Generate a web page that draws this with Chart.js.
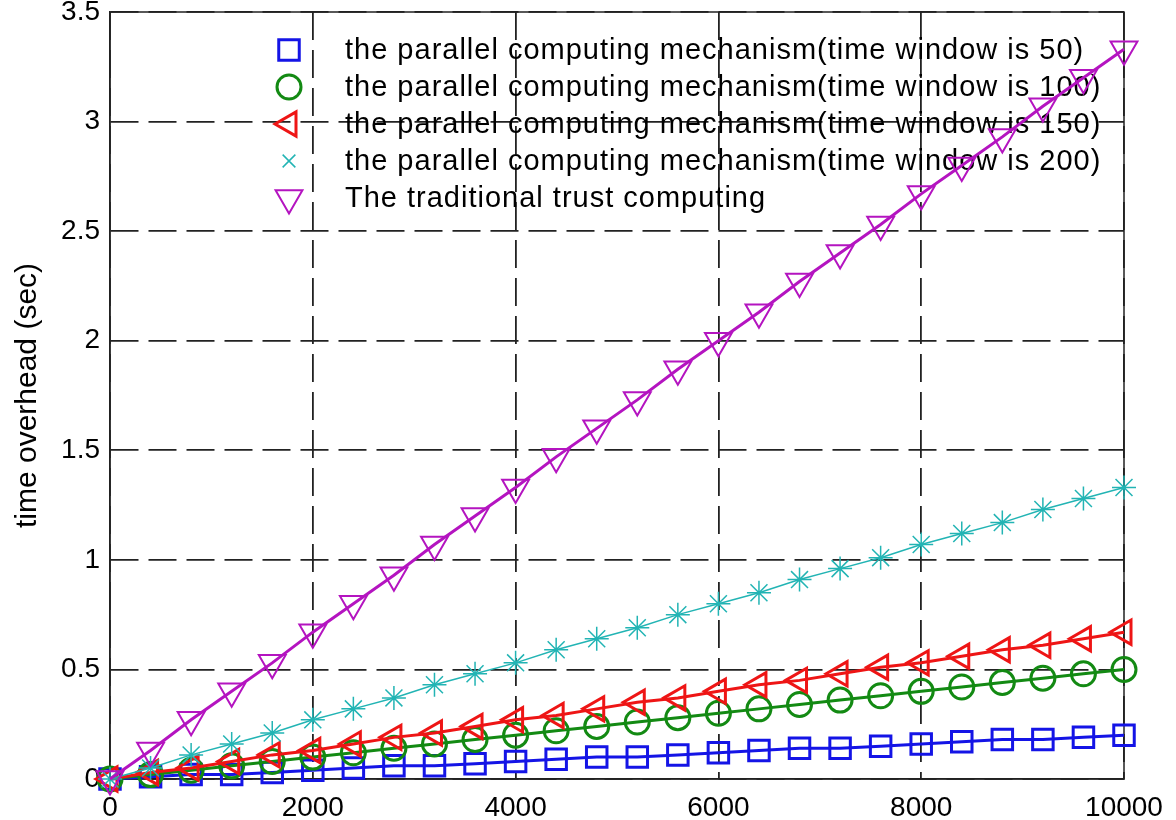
<!DOCTYPE html>
<html>
<head>
<meta charset="utf-8">
<script src="https://cdn.jsdelivr.net/npm/chart.js@4.4.1/dist/chart.umd.min.js"></script>
<style>
  html, body { margin: 0; padding: 0; background: #fff; }
  #wrap { width: 1176px; height: 820px; }
</style>
</head>
<body>
<div id="wrap"><canvas id="myChart"></canvas></div>
<script>
// number of trust computations (x) and time overhead in seconds (y)
var xValues = [0, 400, 800, 1200, 1600, 2000, 2400, 2800, 3200, 3600, 4000, 4400, 4800,
  5200, 5600, 6000, 6400, 6800, 7200, 7600, 8000, 8400, 8800, 9200, 9600, 10000];

var window50 = [0, 0.01, 0.02, 0.02, 0.03, 0.04, 0.05, 0.06, 0.06, 0.07, 0.08, 0.09, 0.10,
  0.10, 0.11, 0.12, 0.13, 0.14, 0.14, 0.15, 0.16, 0.17, 0.18, 0.18, 0.19, 0.20];
var window100 = [0, 0.02, 0.04, 0.06, 0.08, 0.10, 0.12, 0.14, 0.16, 0.18, 0.20, 0.22, 0.24,
  0.26, 0.28, 0.30, 0.32, 0.34, 0.36, 0.38, 0.40, 0.42, 0.44, 0.46, 0.48, 0.50];
var window150 = [0, 0.03, 0.05, 0.08, 0.11, 0.13, 0.16, 0.19, 0.21, 0.24, 0.27, 0.29, 0.32,
  0.35, 0.37, 0.40, 0.43, 0.45, 0.48, 0.51, 0.53, 0.56, 0.59, 0.61, 0.64, 0.67];
var window200 = [0, 0.05, 0.11, 0.16, 0.21, 0.27, 0.32, 0.37, 0.43, 0.48, 0.53, 0.59, 0.64,
  0.69, 0.75, 0.80, 0.85, 0.91, 0.96, 1.01, 1.07, 1.12, 1.17, 1.23, 1.28, 1.33];
var traditional = [0, 0.13, 0.27, 0.40, 0.53, 0.67, 0.80, 0.93, 1.07, 1.20, 1.33, 1.47, 1.60,
  1.73, 1.87, 2.00, 2.13, 2.27, 2.40, 2.53, 2.67, 2.80, 2.93, 3.07, 3.20, 3.33];

var seriesNames = [
  'the parallel computing mechanism(time window is 50)',
  'the parallel computing mechanism(time window is 100)',
  'the parallel computing mechanism(time window is 150)',
  'the parallel computing mechanism(time window is 200)',
  'The traditional trust computing'
];

var xTicks = [0, 2000, 4000, 6000, 8000, 10000];
var yTicks = [0, 0.5, 1, 1.5, 2, 2.5, 3, 3.5];
var yTitle = 'time overhead (sec)';

var FONT = "'Liberation Sans', Arial, sans-serif";

function toPoints(arr) {
  return arr.map(function (v, i) { return { x: xValues[i], y: v }; });
}

function makeSet(idx, data, color, style, radius, rot, lw, pw, order, legendStyle, legendRadius) {
  return {
    label: seriesNames[idx],
    data: toPoints(data),
    borderColor: color,
    backgroundColor: color,
    borderWidth: lw,
    pointStyle: style,
    pointRadius: radius,
    pointRotation: rot,
    pointBorderColor: color,
    pointBackgroundColor: 'rgba(0,0,0,0)',
    pointBorderWidth: pw,
    tension: 0,
    clip: false,
    order: order,
    legendStyle: legendStyle || style,
    legendRadius: legendRadius || radius
  };
}

var datasets = [
  makeSet(0, window50, '#1414e6', 'rect', 14.5, 0, 3, 3, 5),
  makeSet(1, window100, '#138a13', 'circle', 12, 0, 3, 3, 4),
  makeSet(2, window150, '#ee1515', 'triangle', 14, -90, 3, 3, 3),
  makeSet(3, window200, '#22b4b4', 'star', 12, 0, 1.5, 1.5, 2, 'crossRot', 9),
  makeSet(4, traditional, '#b414c0', 'triangle', 15.5, 180, 3, 2, 1)
];

// legend drawn inside the plot, under the data like the original figure
var insideLegend = {
  id: 'insideLegend',
  beforeDatasetsDraw: function (chart) {
    var ctx = chart.ctx;
    var markX = 289, textX = 345, y0 = 50, step = 37;
    ctx.save();
    chart.data.datasets.forEach(function (ds, i) {
      var y = y0 + i * step;
      ctx.strokeStyle = ds.borderColor;
      ctx.fillStyle = 'rgba(0,0,0,0)';
      ctx.lineWidth = ds.pointBorderWidth;
      Chart.helpers.drawPoint(ctx, {
        pointStyle: ds.legendStyle,
        radius: ds.legendRadius,
        rotation: ds.pointRotation,
        borderWidth: ds.pointBorderWidth
      }, markX, y);
      ctx.fillStyle = '#000';
      ctx.font = '29px ' + FONT;
      ctx.letterSpacing = '1px';
      ctx.textBaseline = 'middle';
      ctx.textAlign = 'left';
      ctx.fillText(ds.label, textX, y + 1);
    });
    ctx.restore();
  }
};

// solid box round the axes
var frame = {
  id: 'frame',
  beforeDatasetsDraw: function (chart) {
    var a = chart.chartArea, ctx = chart.ctx;
    ctx.save();
    ctx.strokeStyle = '#222';
    ctx.lineWidth = 1.5;
    ctx.strokeRect(a.left, a.top, a.right - a.left, a.bottom - a.top);
    ctx.restore();
  }
};

const config = {
  type: 'line',
  data: { datasets: datasets },
  options: {
    responsive: true,
    maintainAspectRatio: false,
    animation: false,
    layout: { autoPadding: false, padding: { top: 12, right: 52, bottom: 0, left: 0 } },
    plugins: {
      legend: { display: false },
      tooltip: { enabled: false }
    },
    scales: {
      x: {
        type: 'linear',
        min: 0,
        max: 10000,
        afterBuildTicks: function (s) { s.ticks = xTicks.map(function (v) { return { value: v }; }); },
        afterFit: function (s) { s.height = 41; s.paddingLeft = 0; s.paddingRight = 0; },
        grid: { color: '#222', lineWidth: 1.8, drawTicks: false },
        border: { color: '#222', width: 1.5, dash: [28, 10] },
        ticks: {
          color: '#000',
          padding: 12,
          maxRotation: 0,
          autoSkip: false,
          font: { family: FONT, size: 28 },
          callback: function (v) { return String(v); }
        }
      },
      y: {
        type: 'linear',
        min: 0,
        max: 3.5,
        afterBuildTicks: function (s) { s.ticks = yTicks.map(function (v) { return { value: v }; }); },
        afterFit: function (s) { s.width = 110; s.paddingTop = 0; s.paddingBottom = 0; },
        grid: { color: '#222', lineWidth: 1.8, drawTicks: false },
        border: { color: '#222', width: 1.5, dash: [28, 10] },
        title: {
          display: true,
          text: yTitle,
          color: '#000',
          font: { family: FONT, size: 30 },
          padding: { top: 10, bottom: 0 }
        },
        ticks: {
          color: '#000',
          padding: 10,
          autoSkip: false,
          font: { family: FONT, size: 28 },
          callback: function (v) { return String(v); }
        }
      }
    }
  },
  plugins: [frame, insideLegend]
};

const myChart = new Chart(document.getElementById('myChart'), config);
</script>
</body>
</html>
